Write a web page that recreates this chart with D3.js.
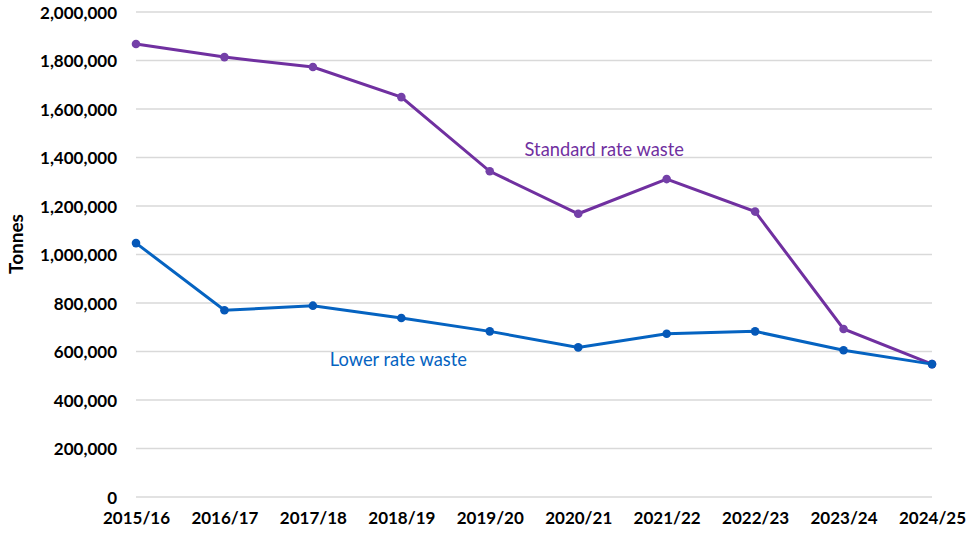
<!DOCTYPE html>
<html>
    <head>
        <meta charset="utf-8">
        <title>Waste tonnes</title>
        <script src="https://d3js.org/d3.v7.min.js"></script>
        <style>
            body { margin: 0; background: #fff; }
            text { font-family: Lato, "Noto Sans", sans-serif; }
        </style>
    </head>
    <body>
        <svg width="975" height="556"></svg>

        <script type="text/javascript">
            // chart values
            const years = ['2015/16', '2016/17', '2017/18', '2018/19', '2019/20',
                           '2020/21', '2021/22', '2022/23', '2023/24', '2024/25'];
            const standardRate = [1868000, 1814000, 1773000, 1649000, 1343000,
                                  1168000, 1311000, 1177000, 693000, 548000];
            const lowerRate = [1047000, 770000, 789000, 738000, 683000,
                               617000, 673000, 683000, 605000, 548000];
            const yTicks = [0, 200000, 400000, 600000, 800000, 1000000,
                            1200000, 1400000, 1600000, 1800000, 2000000];

            const svg = d3.select('svg');
            const plotLeft = 136, plotRight = 932, plotTop = 12, plotBottom = 497;

            const xScale = d3.scalePoint()
                            .domain(years)
                            .range([plotLeft, plotRight]);

            const yScale = d3.scaleLinear()
                            .domain([0, 2000000])
                            .range([plotBottom, plotTop]);

            // gridlines
            svg.append('g')
                .selectAll('line')
                .data(yTicks)
                .enter()
                .append('line')
                .attr('x1', plotLeft)
                .attr('x2', plotRight)
                .attr('y1', d => yScale(d))
                .attr('y2', d => yScale(d))
                .attr('stroke', '#d9d9d9')
                .attr('stroke-width', 1.3);

            // y axis labels
            const yAxis = svg.append('g')
                            .attr('transform', `translate(${plotLeft - 19},0)`)
                            .call(d3.axisLeft(yScale).tickValues(yTicks)
                                    .tickFormat(d3.format(',')).tickSize(0).tickPadding(0));
            yAxis.select('.domain').remove();
            yAxis.selectAll('text')
                .attr('dy', '0.36em')
                .style('font-size', '17px')
                .style('font-weight', 'bold')
                .attr('fill', '#000');

            // x axis labels
            const xAxis = svg.append('g')
                            .attr('transform', `translate(0,${plotBottom})`)
                            .call(d3.axisBottom(xScale).tickSize(0).tickPadding(15));
            xAxis.select('.domain').remove();
            xAxis.selectAll('text')
                .style('font-size', '17px')
                .style('font-weight', 'bold')
                .attr('fill', '#000');

            svg.append('text')
                .attr('transform', 'translate(23,244) rotate(-90)')
                .attr('text-anchor', 'middle')
                .style('font-size', '19px')
                .style('font-weight', 'bold')
                .text('Tonnes');

            const series = [
                { name: 'Standard rate waste', values: standardRate, line: '#7030a0', dot: '#7440a8' },
                { name: 'Lower rate waste', values: lowerRate, line: '#0563c1', dot: '#0558b8' }
            ];

            const line = d3.line()
                            .x((d, i) => xScale(years[i]))
                            .y(d => yScale(d));

            const groups = svg.selectAll('g.series')
                            .data(series)
                            .enter()
                            .append('g')
                            .attr('class', 'series');

            groups.append('path')
                .attr('d', d => line(d.values))
                .attr('fill', 'none')
                .attr('stroke', d => d.line)
                .attr('stroke-width', 3);

            groups.selectAll('circle')
                .data(d => d.values.map(v => ({ v, c: d.dot })))
                .enter()
                .append('circle')
                .attr('cx', (d, i) => xScale(years[i]))
                .attr('cy', d => yScale(d.v))
                .attr('r', 4.3)
                .attr('fill', d => d.c);

            // series labels
            svg.append('text')
                .attr('x', xScale('2020/21') + 26)
                .attr('y', yScale(1405000))
                .attr('text-anchor', 'middle')
                .attr('fill', '#7030a0')
                .style('font-size', '18.3px')
                .text('Standard rate waste');

            svg.append('text')
                .attr('x', xScale('2018/19') - 3)
                .attr('y', yScale(540000))
                .attr('text-anchor', 'middle')
                .attr('fill', '#0563c1')
                .style('font-size', '18.3px')
                .text('Lower rate waste');
        </script>
    </body>
</html>
